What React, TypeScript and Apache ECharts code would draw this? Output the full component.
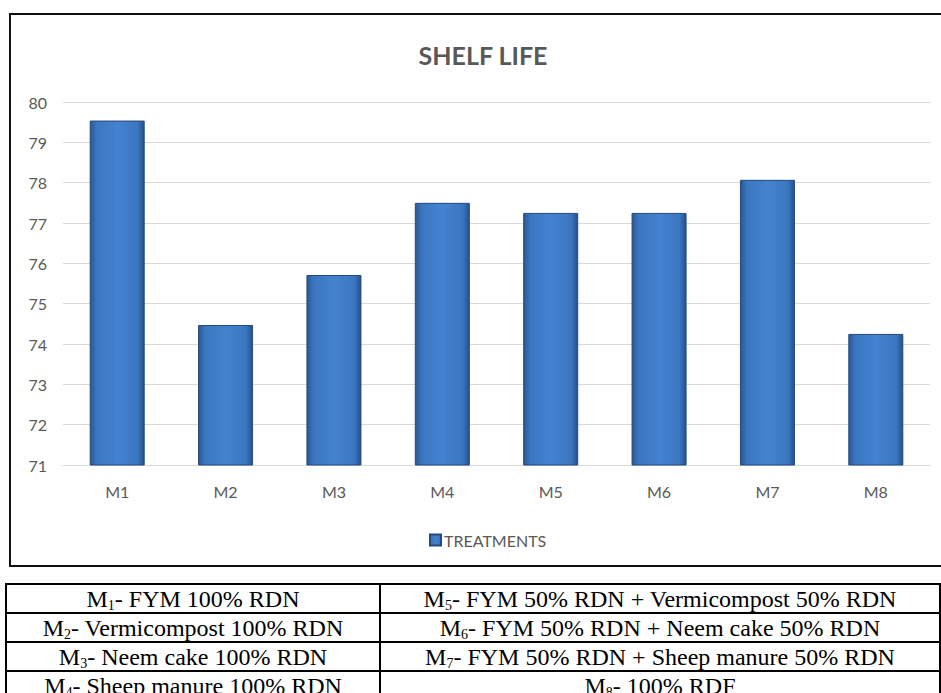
import React, { useEffect, useRef } from "react";
import * as echarts from "echarts";

const titleText = "SHELF LIFE";
const seriesName = "TREATMENTS";
const categories = ["M1", "M2", "M3", "M4", "M5", "M6", "M7", "M8"];
const shelfLife = [79.54, 74.47, 75.71, 77.5, 77.25, 77.25, 78.07, 74.25];
const yMin = 71;
const yMax = 80;
const yInterval = 1;

const leftCol = [
  { sub: "1", text: "- FYM 100% RDN" },
  { sub: "2", text: "- Vermicompost 100% RDN" },
  { sub: "3", text: "- Neem cake 100% RDN" },
  { sub: "4", text: "- Sheep manure 100% RDN" },
];
const rightCol = [
  { sub: "5", text: "- FYM 50% RDN + Vermicompost 50% RDN" },
  { sub: "6", text: "- FYM 50% RDN + Neem cake 50% RDN" },
  { sub: "7", text: "- FYM 50% RDN + Sheep manure 50% RDN" },
  { sub: "8", text: "- 100% RDF" },
];

const cellStyle: React.CSSProperties = {
  border: "2px solid #000",
  textAlign: "center",
  padding: 0,
  height: 27,
  lineHeight: "26px",
  fontFamily: "'Liberation Serif', 'Times New Roman', serif",
  fontSize: 24,
  color: "#000",
  whiteSpace: "nowrap",
  overflow: "hidden",
};

function Cell({ sub, text, width }: { sub: string; text: string; width?: number }) {
  return (
    <td style={{ ...cellStyle, width }}>
      M<sub style={{ fontSize: 14, verticalAlign: "-3px", lineHeight: 0 }}>{sub}</sub>
      {text}
    </td>
  );
}

export default function App() {
  const ref = useRef<HTMLDivElement>(null);
  useEffect(() => {
    if (!ref.current) return;
    const chart = echarts.init(ref.current, undefined, { renderer: "svg" });
    const barColor = new echarts.graphic.LinearGradient(0, 0, 1, 0, [
      { offset: 0, color: "#2a5895" },
      { offset: 0.12, color: "#3b76c0" },
      { offset: 0.5, color: "#4483d1" },
      { offset: 0.88, color: "#3b76c0" },
      { offset: 1, color: "#26508a" },
    ]);
    chart.setOption({
      animation: false,
      backgroundColor: "#ffffff",
      graphic: [
        {
          type: "rect",
          shape: { x: 10, y: 14, width: 1000, height: 552 },
          style: { fill: "none", stroke: "#111", lineWidth: 2 },
          silent: true,
        },
        {
          type: "text",
          x: 483,
          y: 55,
          style: {
            text: titleText,
            fill: "#595959",
            font: "bold 25px Lato, 'Open Sans', sans-serif",
            textAlign: "center",
            textVerticalAlign: "middle",
          },
        },
      ],
      legend: {
        left: 424,
        top: 527,
        itemWidth: 11,
        itemHeight: 11,
        icon: "rect",
        data: [seriesName],
        textStyle: { color: "#595959", fontSize: 16, fontFamily: "Lato, sans-serif", padding: [0, 0, 0, -2] },
      },
      grid: { left: 63, right: 11, top: 102, bottom: 228 },
      xAxis: {
        type: "category",
        data: categories,
        axisTick: { show: false },
        axisLine: { lineStyle: { color: "#d9d9d9", width: 1 } },
        axisLabel: { color: "#595959", fontSize: 16, fontFamily: "Lato, sans-serif", margin: 18 },
      },
      yAxis: {
        type: "value",
        min: yMin,
        max: yMax,
        interval: yInterval,
        axisLine: { show: false },
        axisTick: { show: false },
        splitLine: { lineStyle: { color: "#d9d9d9", width: 1 } },
        axisLabel: { color: "#595959", fontSize: 16, fontFamily: "Lato, sans-serif", margin: 16 },
      },
      series: [
        {
          name: seriesName,
          type: "bar",
          data: shelfLife,
          barWidth: 55,
          itemStyle: { color: barColor, borderColor: "#24497e", borderWidth: 1 },
        },
      ],
    });
    return () => chart.dispose();
  }, []);

  return (
    <div style={{ position: "fixed", left: 0, top: 0, width: 941, height: 693, background: "#fff", overflow: "hidden" }}>
      <div ref={ref} style={{ position: "absolute", left: 0, top: 0, width: 941, height: 693 }} />
      <table
        style={{
          position: "absolute",
          left: 5,
          top: 583,
          width: 936,
          borderCollapse: "collapse",
          tableLayout: "fixed",
        }}
      >
        <tbody>
          {leftCol.map((l, i) => (
            <tr key={i}>
              <Cell sub={l.sub} text={l.text} width={372} />
              <Cell sub={rightCol[i].sub} text={rightCol[i].text} />
            </tr>
          ))}
        </tbody>
      </table>
    </div>
  );
}
